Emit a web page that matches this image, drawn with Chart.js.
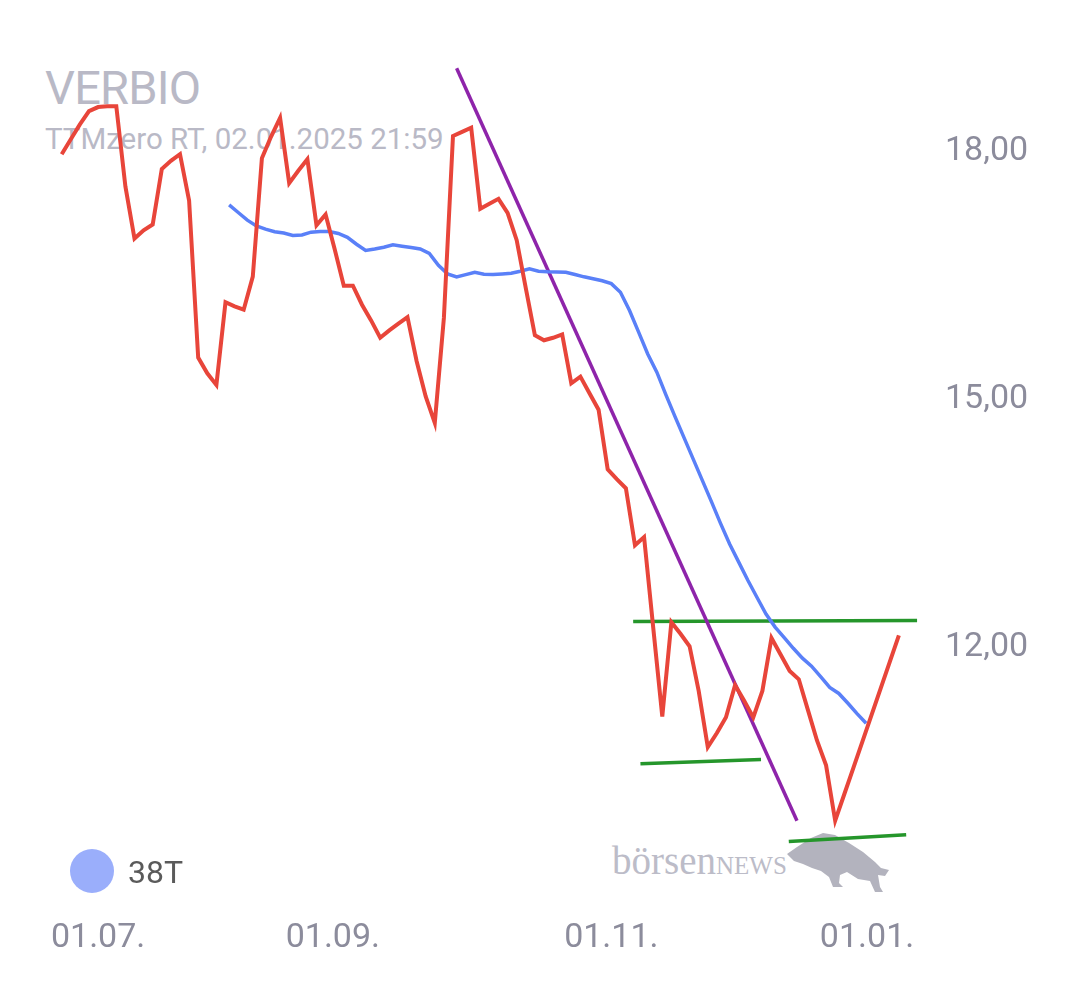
<!DOCTYPE html>
<html>
<head>
<meta charset="utf-8">
<script src="https://cdn.jsdelivr.net/npm/chart.js@4"></script>
<style>
  html, body { margin: 0; padding: 0; background: #fff; }
  #wrap { position: relative; width: 1080px; height: 990px; font-family: Roboto, sans-serif; }
  #wrap canvas { position: absolute; left: 0; top: 0; z-index: 2; }
  .txt { position: absolute; white-space: nowrap; z-index: 1; }
  #titel { left: 45px; top: 65px; font-size: 47px; line-height: 46px; color: #b9b9c6; letter-spacing: -0.8px; }
  #quelle { left: 45px; top: 124px; font-size: 29.5px; line-height: 30px; color: #b9b9c6; }
  #legende { left: 70px; top: 848px; z-index: 3; }
  #legende .punkt { position: absolute; left: 0; top: 1px; width: 44px; height: 44px; border-radius: 50%; background: #9aaefb; }
  #legende .name { position: absolute; left: 58px; top: 8px; font-size: 32px; line-height: 32px; color: #5a5a5a; }
  #marke { left: 612px; top: 838px; z-index: 1; font-family: "Liberation Serif", serif; color: #bcbcc8; }
  #marke .a { font-size: 39px; }
  #marke .b { font-size: 25px; }
  #bulle { position: absolute; left: 785px; top: 830px; z-index: 1; }
</style>
</head>
<body>
<div id="wrap">
  <div class="txt" id="titel">VERBIO</div>
  <div class="txt" id="quelle">TTMzero RT, 02.01.2025 21:59</div>
  <div class="txt" id="legende"><span class="punkt"></span><span class="name">38T</span></div>
  <div class="txt" id="marke"><span class="a">börsen</span><span class="b">NEWS</span></div>
  <svg id="bulle" width="110" height="66" viewBox="0 0 110 66">
    <path d="M2 24 L12 17 L26 8 L38 3 L50 5 L64 13 L78 22 L90 32 L96 38 L104 40 L100 46 L93 45 L95 57 L98 62 L90 62 L85 51 L73 49 L62 42 L55 45 L54 53 L58 57 L48 57 L44 47 L36 41 L27 38 L18 34 L9 31 Z" fill="#b3b3be"/>
  </svg>
  <canvas id="chart"></canvas>
</div>
<script>
// x = laufende Nummer des Kurspunkts
var xLabels = ['01.07.', '01.09.', '01.11.', '01.01.'];
var xTickPos = [4, 29.8, 60.4, 88.5];
var yTicks = [12, 15, 18];

// Kurs VERBIO (EUR)
var kurs = [
  17.97, 18.15, 18.33, 18.49, 18.54, 18.55, 18.55, 17.58, 16.95, 17.05,
  17.12, 17.79, 17.89, 17.97, 17.41, 15.51, 15.32, 15.18, 16.18, 16.13,
  16.09, 16.49, 17.92, 18.18, 18.41, 17.62, 17.77, 17.91, 17.11, 17.24,
  16.82, 16.38, 16.38, 16.15, 15.96, 15.75, 15.84, 15.92, 16.00, 15.47,
  15.04, 14.72, 15.99, 18.19, 18.24, 18.29, 17.31, 17.37, 17.43, 17.26,
  16.93, 16.35, 15.78, 15.72, 15.75, 15.79, 15.20, 15.28, 15.08, 14.88,
  14.16, 14.04, 13.93, 13.24, 13.34, 12.25, 11.17, 12.31, 12.17, 12.02,
  11.48, 10.80, 10.97, 11.16, 11.55, 11.36, 11.16, 11.48, 12.12, 11.92,
  11.72, 11.62, 11.25, 10.88, 10.58, 9.91, 10.23, 10.55, 10.87, 11.19,
  11.51, 11.83, 12.15
];

// gleitender Durchschnitt 38 Tage
var ma38Start = 18.4;
var ma38 = [
  17.357, 17.265, 17.173, 17.102, 17.064, 17.032, 17.016, 16.986, 16.993, 17.027,
  17.034, 17.034, 17.011, 16.965, 16.881, 16.806, 16.823, 16.845, 16.874, 16.858,
  16.841, 16.823, 16.769, 16.627, 16.523, 16.485, 16.514, 16.543, 16.519, 16.516,
  16.522, 16.530, 16.554, 16.583, 16.555, 16.549, 16.546, 16.543, 16.516, 16.487,
  16.463, 16.440, 16.405, 16.301, 16.080, 15.818, 15.554, 15.334, 15.060, 14.796,
  14.539, 14.283, 14.026, 13.768, 13.505, 13.257, 13.037, 12.817, 12.612, 12.410,
  12.251, 12.123, 11.995, 11.876, 11.779, 11.653, 11.522, 11.449, 11.330, 11.205,
  11.088
];

// eingezeichnete Linien
var trendX = [43.4, 80.8];
var trendY = [19.01, 9.91];
var widerstandX = [62.8, 94.0];
var widerstandY = [12.32, 12.33];
var unterstuetzung1X = [63.6, 76.85];
var unterstuetzung1Y = [10.60, 10.65];
var unterstuetzung2X = [79.9, 92.8];
var unterstuetzung2Y = [9.66, 9.74];

function pts(xs, ys) {
  var arr = [];
  for (var i = 0; i < xs.length; i++) {
    arr.push({x: xs[i], y: ys[i]});
  }
  return arr;
}

var kursPts = kurs.map(function(v, i) { return {x: i, y: v}; });
var maPts = ma38.map(function(v, i) { return {x: ma38Start + i, y: v}; });

function linie(data, color, w) {
  return {
    data: data,
    borderColor: color,
    borderWidth: w,
    pointRadius: 0,
    tension: 0,
    fill: false
  };
}

var ctx = document.getElementById('chart').getContext('2d');
var myChart = new Chart(ctx, {
  type: 'line',
  data: {
    datasets: [
      linie(kursPts, '#e8453a', 4),
      linie(maPts, '#5a80f8', 3.5),
      linie(pts(trendX, trendY), '#8e24aa', 3.5),
      linie(pts(widerstandX, widerstandY), '#25962b', 3.5),
      linie(pts(unterstuetzung1X, unterstuetzung1Y), '#25962b', 3.5),
      linie(pts(unterstuetzung2X, unterstuetzung2Y), '#25962b', 3.5)
    ]
  },
  options: {
    responsive: true,
    maintainAspectRatio: false,
    animation: false,
    layout: { padding: { left: 0, right: 0, top: 20, bottom: 0 } },
    plugins: {
      legend: { display: false },
      tooltip: { enabled: false }
    },
    scales: {
      x: {
        type: 'linear',
        min: -6.78,
        max: 95.42,
        grid: { display: false, drawTicks: false },
        border: { display: false },
        afterFit: function(scale) { scale.height = 110; },
        afterBuildTicks: function(scale) {
          scale.ticks = xTickPos.map(function(v) { return {value: v}; });
        },
        ticks: {
          autoSkip: false,
          maxRotation: 0,
          padding: 38,
          color: '#8c8c9c',
          font: { family: 'Roboto', size: 34 },
          callback: function(value, index) { return xLabels[index]; }
        }
      },
      y: {
        position: 'right',
        min: 9.193,
        max: 19.4065,
        grid: { display: false, drawTicks: false },
        border: { display: false },
        afterFit: function(scale) { scale.width = 150; },
        afterBuildTicks: function(scale) {
          scale.ticks = yTicks.map(function(v) { return {value: v}; });
        },
        ticks: {
          padding: 15,
          color: '#8c8c9c',
          font: { family: 'Roboto', size: 34 },
          callback: function(value) { return value.toFixed(2).replace('.', ','); }
        }
      }
    }
  }
});
</script>
</body>
</html>
